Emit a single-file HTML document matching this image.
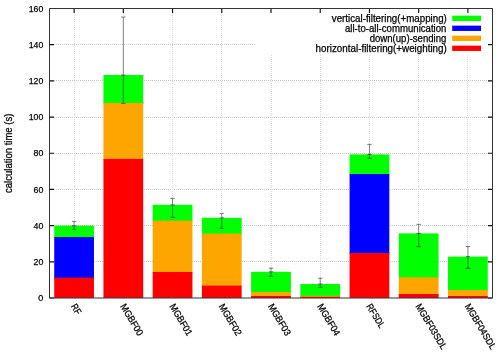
<!DOCTYPE html>
<html><head><meta charset="utf-8"><title>calculation time</title>
<style>html,body{margin:0;padding:0;background:#fff}svg{display:block}</style></head>
<body>
<svg width="500" height="356" viewBox="0 0 500 356">
<rect width="500" height="356" fill="#fff"/>
<path d="M50 261.5H492.5 M50 225.5H492.5 M50 189.5H492.5 M50 153.5H492.5 M50 117.5H492.5 M50 80.5H492.5 M50 44.5H492.5" stroke="#c6c6c6" stroke-width="1" stroke-dasharray="1 1" fill="none" shape-rendering="crispEdges"/>
<path d="M74.5 9V298.0 M123.5 9V298.0 M172.5 9V298.0 M221.5 9V298.0 M271.5 9V298.0 M320.5 9V298.0 M369.5 9V298.0 M418.5 9V298.0 M467.5 9V298.0" stroke="#d9d9d9" stroke-width="1" stroke-dasharray="1 1" fill="none" shape-rendering="crispEdges"/>
<rect x="256" y="9" width="236" height="45" fill="#fff"/>
<path d="M49.5 298.00h4.5M492.5 298.00h-4.5 M49.5 261.81h4.5M492.5 261.81h-4.5 M49.5 225.62h4.5M492.5 225.62h-4.5 M49.5 189.44h4.5M492.5 189.44h-4.5 M49.5 153.25h4.5M492.5 153.25h-4.5 M49.5 117.06h4.5M492.5 117.06h-4.5 M49.5 80.88h4.5M492.5 80.88h-4.5 M49.5 44.69h4.5M492.5 44.69h-4.5 M49.5 8.50h4.5M492.5 8.50h-4.5 M74.10 8.5v4.5 M123.32 8.5v4.5 M172.55 8.5v4.5 M221.78 8.5v4.5 M271.00 8.5v4.5 M320.23 8.5v4.5 M369.45 8.5v4.5 M418.67 8.5v4.5 M467.90 8.5v4.5" stroke="#111" stroke-width="1.15" fill="none"/>
<rect x="74" y="221" width="1" height="5" fill="#fff" shape-rendering="crispEdges"/>
<rect x="123" y="17" width="1" height="58" fill="#fff" shape-rendering="crispEdges"/>
<rect x="172" y="198" width="1" height="7" fill="#fff" shape-rendering="crispEdges"/>
<rect x="221" y="213" width="1" height="5" fill="#fff" shape-rendering="crispEdges"/>
<rect x="271" y="268" width="1" height="4" fill="#fff" shape-rendering="crispEdges"/>
<rect x="320" y="278" width="1" height="6" fill="#fff" shape-rendering="crispEdges"/>
<rect x="369" y="144" width="1" height="11" fill="#fff" shape-rendering="crispEdges"/>
<rect x="418" y="224" width="1" height="10" fill="#fff" shape-rendering="crispEdges"/>
<rect x="467" y="246" width="1" height="11" fill="#fff" shape-rendering="crispEdges"/>
<rect x="54.22" y="225.60" width="39.75" height="12.40" fill="#00ff00"/>
<rect x="54.22" y="237.00" width="39.75" height="41.60" fill="#0000ff"/>
<rect x="54.22" y="277.60" width="39.75" height="20.40" fill="#ff0000"/>
<rect x="103.45" y="75.00" width="39.75" height="29.00" fill="#00ff00"/>
<rect x="103.45" y="103.00" width="39.75" height="56.90" fill="#ffa500"/>
<rect x="103.45" y="158.90" width="39.75" height="139.10" fill="#ff0000"/>
<rect x="152.68" y="204.80" width="39.75" height="16.80" fill="#00ff00"/>
<rect x="152.68" y="220.60" width="39.75" height="52.40" fill="#ffa500"/>
<rect x="152.68" y="272.00" width="39.75" height="26.00" fill="#ff0000"/>
<rect x="201.90" y="217.80" width="39.75" height="16.80" fill="#00ff00"/>
<rect x="201.90" y="233.60" width="39.75" height="53.00" fill="#ffa500"/>
<rect x="201.90" y="285.60" width="39.75" height="12.40" fill="#ff0000"/>
<rect x="251.12" y="271.80" width="39.75" height="21.20" fill="#00ff00"/>
<rect x="251.12" y="292.00" width="39.75" height="5.00" fill="#ffa500"/>
<rect x="251.12" y="296.00" width="39.75" height="2.00" fill="#ff0000"/>
<rect x="300.35" y="284.00" width="39.75" height="12.80" fill="#00ff00"/>
<rect x="300.35" y="295.80" width="39.75" height="2.00" fill="#ffa500"/>
<rect x="300.35" y="296.80" width="39.75" height="1.20" fill="#ff0000"/>
<rect x="349.58" y="154.40" width="39.75" height="20.60" fill="#00ff00"/>
<rect x="349.58" y="174.00" width="39.75" height="80.00" fill="#0000ff"/>
<rect x="349.58" y="253.00" width="39.75" height="45.00" fill="#ff0000"/>
<rect x="398.80" y="233.40" width="39.75" height="44.90" fill="#00ff00"/>
<rect x="398.80" y="277.30" width="39.75" height="17.70" fill="#ffa500"/>
<rect x="398.80" y="294.00" width="39.75" height="4.00" fill="#ff0000"/>
<rect x="448.02" y="256.60" width="39.75" height="34.40" fill="#00ff00"/>
<rect x="448.02" y="290.00" width="39.75" height="7.00" fill="#ffa500"/>
<rect x="448.02" y="296.00" width="39.75" height="2.00" fill="#ff0000"/>
<path d="M74.10 221.40V229.40 M71.90 221.40h4.4 M71.90 229.40h4.4 M71.90 225.60h4.4 M123.32 17.00V103.40 M121.12 17.00h4.4 M121.12 103.40h4.4 M121.12 75.00h4.4 M172.55 198.40V217.40 M170.35 198.40h4.4 M170.35 217.40h4.4 M170.35 204.80h4.4 M221.78 213.40V228.40 M219.58 213.40h4.4 M219.58 228.40h4.4 M219.58 217.80h4.4 M271.00 268.20V276.40 M268.80 268.20h4.4 M268.80 276.40h4.4 M268.80 271.80h4.4 M320.23 278.20V287.40 M318.03 278.20h4.4 M318.03 287.40h4.4 M318.03 284.00h4.4 M369.45 144.40V158.20 M367.25 144.40h4.4 M367.25 158.20h4.4 M367.25 154.40h4.4 M418.67 224.40V246.60 M416.47 224.40h4.4 M416.47 246.60h4.4 M416.47 233.40h4.4 M467.90 246.50V268.30 M465.70 246.50h4.4 M465.70 268.30h4.4 M465.70 256.60h4.4" stroke="#1a1a1a" stroke-width="0.55" fill="none"/>
<path d="M49.5 8.5H492.5V298.0H49.5Z" stroke="#333" stroke-width="1" fill="none"/>
<g font-family="'Liberation Sans', sans-serif" font-size="9.6" fill="#000" stroke="#000" stroke-width="0.25">
<text x="43.3" y="301.20" font-size="9.9" text-anchor="end" textLength="5.0" lengthAdjust="spacingAndGlyphs">0</text>
<text x="43.3" y="265.01" font-size="9.9" text-anchor="end" textLength="9.8" lengthAdjust="spacingAndGlyphs">20</text>
<text x="43.3" y="228.82" font-size="9.9" text-anchor="end" textLength="9.8" lengthAdjust="spacingAndGlyphs">40</text>
<text x="43.3" y="192.64" font-size="9.9" text-anchor="end" textLength="9.8" lengthAdjust="spacingAndGlyphs">60</text>
<text x="43.3" y="156.45" font-size="9.9" text-anchor="end" textLength="9.8" lengthAdjust="spacingAndGlyphs">80</text>
<text x="43.3" y="120.26" font-size="9.9" text-anchor="end" textLength="14.6" lengthAdjust="spacingAndGlyphs">100</text>
<text x="43.3" y="84.08" font-size="9.9" text-anchor="end" textLength="14.6" lengthAdjust="spacingAndGlyphs">120</text>
<text x="43.3" y="47.89" font-size="9.9" text-anchor="end" textLength="14.6" lengthAdjust="spacingAndGlyphs">140</text>
<text x="43.3" y="11.70" font-size="9.9" text-anchor="end" textLength="14.6" lengthAdjust="spacingAndGlyphs">160</text>
<text transform="translate(73.60 304.5) rotate(59)" x="0" y="3.3" textLength="10.6" lengthAdjust="spacingAndGlyphs">RF</text>
<text transform="translate(122.82 304.5) rotate(59)" x="0" y="3.3" textLength="35.2" lengthAdjust="spacingAndGlyphs">MGBF00</text>
<text transform="translate(172.05 304.5) rotate(59)" x="0" y="3.3" textLength="35.2" lengthAdjust="spacingAndGlyphs">MGBF01</text>
<text transform="translate(221.28 304.5) rotate(59)" x="0" y="3.3" textLength="35.2" lengthAdjust="spacingAndGlyphs">MGBF02</text>
<text transform="translate(270.50 304.5) rotate(59)" x="0" y="3.3" textLength="35.2" lengthAdjust="spacingAndGlyphs">MGBF03</text>
<text transform="translate(319.73 304.5) rotate(59)" x="0" y="3.3" textLength="35.2" lengthAdjust="spacingAndGlyphs">MGBF04</text>
<text transform="translate(368.95 304.5) rotate(59)" x="0" y="3.3" textLength="26.4" lengthAdjust="spacingAndGlyphs">RFSDL</text>
<text transform="translate(418.17 304.5) rotate(59)" x="0" y="3.3" textLength="51.2" lengthAdjust="spacingAndGlyphs">MGBF03SDL</text>
<text transform="translate(467.40 304.5) rotate(59)" x="0" y="3.3" textLength="51.2" lengthAdjust="spacingAndGlyphs">MGBF04SDL</text>
<text transform="translate(11.7 153.3) rotate(-90)" text-anchor="middle" font-size="10.0" textLength="79.3" lengthAdjust="spacingAndGlyphs">calculation time (s)</text>
<text x="331.8" y="21.60" font-size="10.1" textLength="115.0" lengthAdjust="spacingAndGlyphs">vertical-filtering(+mapping)</text>
<text x="345.0" y="31.65" font-size="10.1" textLength="101.4" lengthAdjust="spacingAndGlyphs">all-to-all-communication</text>
<text x="369.7" y="41.70" font-size="10.1" textLength="76.7" lengthAdjust="spacingAndGlyphs">down(up)-sending</text>
<text x="315.6" y="51.75" font-size="10.1" textLength="131.2" lengthAdjust="spacingAndGlyphs">horizontal-filtering(+weighting)</text>
</g>
<rect x="452.2" y="15.65" width="28.8" height="5.3" fill="#00ff00"/>
<rect x="452.2" y="25.65" width="28.8" height="5.3" fill="#0000ff"/>
<rect x="452.2" y="35.65" width="28.8" height="5.3" fill="#ffa500"/>
<rect x="452.2" y="45.65" width="28.8" height="5.3" fill="#ff0000"/>
</svg>
</body></html>
